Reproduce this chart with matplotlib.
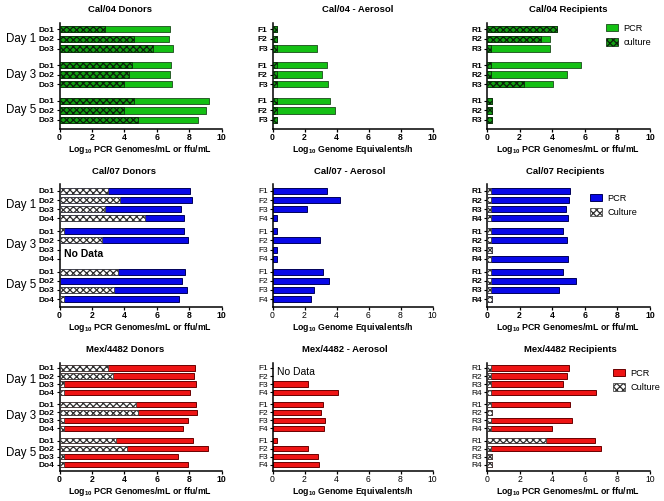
import numpy as np
import matplotlib
matplotlib.use("Agg")
import matplotlib.pyplot as plt
import matplotlib.transforms as mtrans
from matplotlib.patches import Patch

plt.rcParams['font.family'] = ['Liberation Sans', 'DejaVu Sans']
plt.rcParams['mathtext.fontset'] = 'custom'
plt.rcParams['mathtext.rm'] = 'Liberation Sans'
plt.rcParams['mathtext.bf'] = 'Liberation Sans:bold'
plt.rcParams['hatch.linewidth'] = 0.9

nan = np.nan

# ---------------- data ----------------
days = ["Day 1", "Day 3", "Day 5"]
donors3 = ["Do1", "Do2", "Do3"]
donors4 = ["Do1", "Do2", "Do3", "Do4"]
ferrets3 = ["F1", "F2", "F3"]
ferrets4 = ["F1", "F2", "F3", "F4"]
recips3 = ["R1", "R2", "R3"]
recips4 = ["R1", "R2", "R3", "R4"]

cal04_don_pcr = [6.85, 6.75, 7.0, 6.9, 6.8, 6.95, 9.2, 9.05, 8.55]
cal04_don_cul = [2.8, 4.6, 5.8, 4.5, 4.3, 4.0, 4.6, 4.0, 4.85]
cal04_aer_pcr = [0.3, 0.3, 2.75, 3.4, 3.08, 3.45, 3.6, 3.92, 0.3]
cal04_aer_cul = [0.25, 0.25, 0.25, 0.25, 0.25, 0.25, 0.25, 0.25, 0.25]
cal04_rec_pcr = [4.3, 3.85, 3.87, 5.74, 4.89, 4.07, 0.3, 0.3, 0.3]
cal04_rec_cul = [4.3, 3.3, 0.25, 0.25, 0.25, 2.3, 0.3, 0.3, 0.3]

cal07_don_pcr = [8.08, 8.16, 7.48, 7.67, 7.71, 7.92, nan, nan, 7.77, 7.55, 7.88, 7.38]
cal07_don_cul = [3.0, 3.75, 2.78, 5.3, 0.25, 2.6, nan, nan, 3.6, 0.0, 3.35, 0.25]
cal07_aer_pcr = [3.38, 4.19, 2.18, 0.3, 0.3, 2.98, 0.3, 0.3, 3.17, 3.51, 2.62, 2.41]
cal07_rec_pcr = [5.1, 5.0, 4.82, 4.98, 4.69, 4.9, 0.3, 4.98, 4.69, 5.47, 4.41, 0.3]
cal07_rec_cul = [0.25, 0.25, 0.25, 0.25, 0.25, 0.25, 0.3, 0.25, 0.25, 0.25, 0.25, 0.3]

mex_don_pcr = [8.36, 8.3, 8.42, 8.03, 8.44, 8.5, 7.95, 7.64, 8.23, 9.16, 7.29, 7.93]
mex_don_cul = [3.0, 3.33, 0.25, 0.25, 4.7, 4.83, 0.25, 0.25, 3.47, 4.19, 0.25, 0.25]
mex_aer_pcr = [nan, nan, 2.19, 4.07, 3.14, 3.06, 3.26, 3.22, 0.31, 2.21, 2.87, 2.91]
mex_rec_pcr = [5.01, 4.89, 4.68, 6.67, 5.09, 0.3, 5.2, 3.96, 6.65, 6.98, 0.3, 0.3]
mex_rec_cul = [0.25, 0.25, 0.25, 0.25, 0.25, 0.3, 0.25, 0.25, 3.65, 0.25, 0.3, 0.3]

titles = ["Cal/04 Donors", "Cal/04 - Aerosol", "Cal/04 Recipients",
          "Cal/07 Donors", "Cal/07 - Aerosol", "Cal/07 Recipients",
          "Mex/4482 Donors", "Mex/4482 - Aerosol", "Mex/4482 Recipients"]

# ---------------- style ----------------
GREEN, GREEN_E = '#14c014', '#2a5e2a'
BLUE, BLUE_E = '#0808e8', '#00005a'
RED, RED_E = '#ee1414', '#6a0000'

W, H = 664, 501
fig = plt.figure(figsize=(W / 100, H / 100), dpi=100)

cols = [(59.5, 221.5), (272.5, 432.5), (487.0, 650.0)]
rows = [  # top, bottom, first bar, last bar, gap
    (23, 129, 29.3, 120.0, 0.7),
    (184, 307, 191.0, 299.0, 0.4),
    (363, 470.7, 368.0, 464.7, 0.5),
]
title_pos = [[120.5, 358, 568], [124, 350, 565], [124.7, 345, 570]]
title_y = [9, 171, 349]
xlabel_y = [149.5, 327, 491.5]

XL_PCR = r'Log$_{\mathbf{10}}$ PCR Genomes/mL or ffu/mL'
XL_GE = r'Log$_{\mathbf{10}}$ Genome Equivalents/h'


def make_axes(r, c):
    top, bot, first, last, gap = rows[r]
    x0, x1 = cols[c]
    return fig.add_axes([x0 / W, 1 - bot / H, (x1 - x0) / W, (bot - top) / H])


def ypos(n, gap):
    return np.array([g * (n + gap) + i for g in range(3) for i in range(n)], float)


def panel(r, c, labels, pcr, cul, pcol, pedge, cul_face, cul_edge,
          xlabel, bold_ticks=True, bold_nums=True, daylabels=False):
    top, bot, first, last, gap = rows[r]
    ax = make_axes(r, c)
    n = len(labels)
    y = ypos(n, gap)
    span = y[-1] - y[0]
    s = (last - first) / span
    t = (first - top) / s
    b = (bot - last) / s
    hgt = 0.66
    ax.barh(y, pcr, height=hgt, color=pcol, edgecolor=pedge, linewidth=0.7, zorder=2)
    if cul is not None:
        cv = np.array(cul, float)
        ax.barh(y, cv, height=hgt, color=cul_face, edgecolor=cul_edge,
                linewidth=0.5, hatch='xxxxx', zorder=3)
    ax.set_ylim(y[-1] + b, y[0] - t)
    ax.set_xlim(0, 10)
    ax.set_xticks([0, 2, 4, 6, 8, 10])
    ax.set_yticks(y)
    ax.set_yticklabels(labels * 3)
    for sp in ['top', 'right']:
        ax.spines[sp].set_visible(False)
    for sp in ['left', 'bottom']:
        ax.spines[sp].set_linewidth(1.1)
    ax.tick_params(axis='y', length=2.5, width=0.8, pad=1.0, labelsize=6.0)
    ax.tick_params(axis='x', length=2.5, width=0.9, pad=0.5, labelsize=6.2)
    for lab in ax.get_yticklabels():
        lab.set_fontweight('bold' if bold_ticks else 'normal')
    for lab in ax.get_xticklabels():
        lab.set_fontweight('bold' if bold_nums else 'normal')
    fig.text(title_pos[r][c] / W, 1 - title_y[r] / H, titles[3 * r + c],
             ha='center', va='center', fontsize=6.8, fontweight='bold')
    x0, x1 = cols[c]
    fig.text((x0 + x1) / 2 / W, 1 - xlabel_y[r] / H, xlabel,
             ha='center', va='center', fontsize=6.3, fontweight='bold')
    if daylabels:
        tr = mtrans.blended_transform_factory(fig.transFigure, ax.transData)
        for g, d in enumerate(days):
            yc = y[g * n:(g + 1) * n].mean()
            ax.text(5.5 / W, yc, d, transform=tr, ha='left', va='center',
                    fontsize=8.3)
    return ax


def add_legend(ax, x, y, pcol, pedge, cface, cedge, culname):
    h = [Patch(facecolor=pcol, edgecolor=pedge, linewidth=0.7, label='PCR'),
         Patch(facecolor=cface, edgecolor=cedge, linewidth=0.5, hatch='xxxxx',
               label=culname)]
    ax.legend(handles=h, loc='upper left', bbox_to_anchor=(x / W, 1 - y / H),
              bbox_transform=fig.transFigure, frameon=False, fontsize=6.6,
              handlelength=1.35, handleheight=0.85, handletextpad=0.55,
              labelspacing=0.55, borderaxespad=0, borderpad=0)


# Row 1: Cal/04
CUL_G_FACE, CUL_G_EDGE = '#12a012', '#0b200b'
panel(0, 0, donors3, cal04_don_pcr, cal04_don_cul, GREEN, GREEN_E,
      CUL_G_FACE, CUL_G_EDGE, XL_PCR, daylabels=True)
panel(0, 1, ferrets3, cal04_aer_pcr, cal04_aer_cul, GREEN, GREEN_E,
      CUL_G_FACE, CUL_G_EDGE, XL_GE)
ax3 = panel(0, 2, recips3, cal04_rec_pcr, cal04_rec_cul, GREEN, GREEN_E,
            CUL_G_FACE, CUL_G_EDGE, XL_PCR)
add_legend(ax3, 606, 24, GREEN, GREEN_E, CUL_G_FACE, CUL_G_EDGE, 'culture')

# Row 2: Cal/07
CUL_W_FACE, CUL_W_EDGE = 'white', '#303030'
ax4 = panel(1, 0, donors4, cal07_don_pcr, cal07_don_cul, BLUE, BLUE_E,
            CUL_W_FACE, CUL_W_EDGE, XL_PCR, daylabels=True)
ax4.text(0.25, ypos(4, 0.4)[6:8].mean(), 'No Data', ha='left', va='center',
         fontsize=7.5, fontweight='bold')
panel(1, 1, ferrets4, cal07_aer_pcr, None, BLUE, BLUE_E,
      CUL_W_FACE, CUL_W_EDGE, XL_GE, bold_ticks=False, bold_nums=False)
ax6 = panel(1, 2, recips4, cal07_rec_pcr, cal07_rec_cul, BLUE, BLUE_E,
            CUL_W_FACE, CUL_W_EDGE, XL_PCR)
add_legend(ax6, 590, 194, BLUE, BLUE_E, CUL_W_FACE, CUL_W_EDGE, 'Culture')

# Row 3: Mex/4482
panel(2, 0, donors4, mex_don_pcr, mex_don_cul, RED, RED_E,
      CUL_W_FACE, CUL_W_EDGE, XL_PCR, daylabels=True)
ax8 = panel(2, 1, ferrets4, mex_aer_pcr, None, RED, RED_E,
            CUL_W_FACE, CUL_W_EDGE, XL_GE, bold_ticks=False, bold_nums=False)
ax8.text(0.3, ypos(4, 0.5)[0:2].mean(), 'No Data', ha='left', va='center',
         fontsize=7.5)
ax9 = panel(2, 2, recips4, mex_rec_pcr, mex_rec_cul, RED, RED_E,
            CUL_W_FACE, CUL_W_EDGE, XL_PCR, bold_ticks=False, bold_nums=False)
add_legend(ax9, 613, 369, RED, RED_E, CUL_W_FACE, CUL_W_EDGE, 'Culture')

fig.savefig('out.png', dpi=100)
